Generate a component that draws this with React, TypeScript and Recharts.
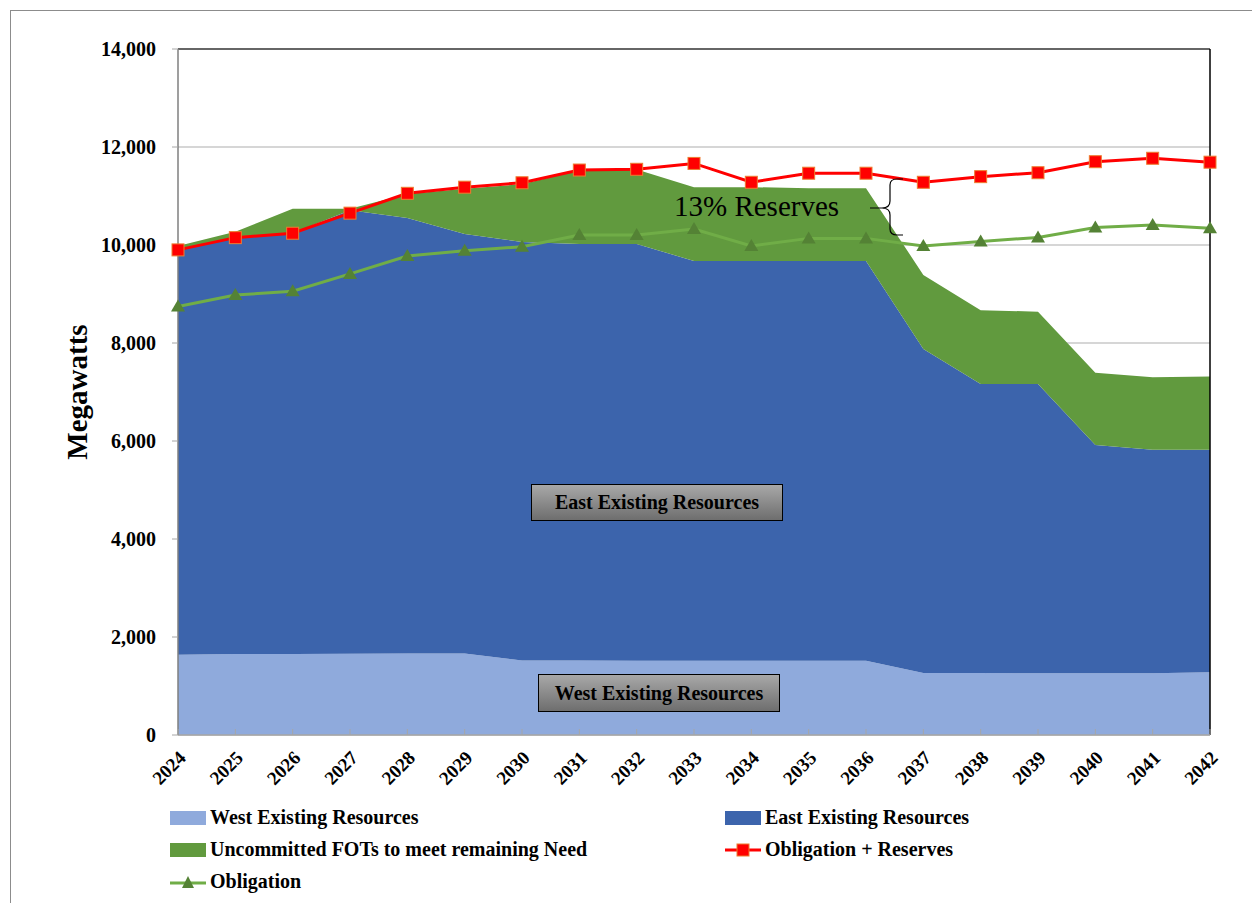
import React from "react";
import {
  ComposedChart,
  Area,
  Line,
  XAxis,
  YAxis,
  CartesianGrid,
  ReferenceLine,
} from "recharts";

const years = [
  "2024", "2025", "2026", "2027", "2028", "2029", "2030", "2031", "2032", "2033",
  "2034", "2035", "2036", "2037", "2038", "2039", "2040", "2041", "2042",
];
const westExisting = [
  1640, 1655, 1655, 1660, 1665, 1665, 1520, 1520, 1515, 1515,
  1515, 1515, 1515, 1265, 1265, 1260, 1260, 1260, 1280,
];
const eastExisting = [
  8260, 8495, 8585, 9050, 8885, 8560, 8540, 8500, 8505, 8160,
  8160, 8160, 8160, 6615, 5900, 5905, 4660, 4560, 4540,
];
const uncommittedFots = [
  80, 120, 500, 30, 490, 925, 1180, 1510, 1520, 1505,
  1505, 1485, 1485, 1510, 1505, 1475, 1475, 1480, 1495,
];
const obligationReserves = [
  9900, 10150, 10240, 10650, 11055, 11180, 11270, 11530, 11545, 11665,
  11280, 11465, 11465, 11280, 11395, 11475, 11700, 11770, 11690,
];
const obligation = [
  8745, 8980, 9055, 9410, 9775, 9885, 9965, 10205, 10205, 10325,
  9980, 10135, 10135, 9980, 10070, 10155, 10355, 10410, 10340,
];
const yTicks = [0, 2000, 4000, 6000, 8000, 10000, 12000, 14000];

const data = years.map((y, i) => ({
  year: y,
  west: westExisting[i],
  east: eastExisting[i],
  fots: uncommittedFots[i],
  oblRes: obligationReserves[i],
  obl: obligation[i],
}));

const SERIF = "'Liberation Serif', 'Times New Roman', serif";
const C_WEST = "#8FAADC";
const C_EAST = "#3C64AC";
const C_FOT = "#619A3E";
const C_RED = "#FF0000";
const C_OBL = "#70AD47";
const C_TRI = "#548235";

const SquareDot = (props: any) => {
  const { cx, cy } = props;
  if (cx == null || cy == null) return null;
  return <rect x={cx - 6} y={cy - 6} width={12} height={12} fill={C_RED} stroke="#ED7D31" strokeWidth={1} />;
};

const TriDot = (props: any) => {
  const { cx, cy } = props;
  if (cx == null || cy == null) return null;
  return <path d={`M${cx},${cy - 7} L${cx + 7},${cy + 5} L${cx - 7},${cy + 5} Z`} fill={C_TRI} />;
};

const YearTick = (props: any) => {
  const { x, y, payload } = props;
  const ax = x + 9;
  const ay = y + 22;
  return (
    <g>
      <line x1={x} x2={x} y1={y - 2} y2={y - 8} stroke="#A6A6A6" />
      <text
        x={ax}
        y={ay}
        transform={`rotate(-45 ${ax} ${ay})`}
        textAnchor="end"
        fontFamily={SERIF}
        fontWeight="bold"
        fontSize={19}
        fill="#000"
      >
        {payload.value}
      </text>
    </g>
  );
};

const labelBox: React.CSSProperties = {
  position: "absolute",
  border: "1px solid #000",
  background: "linear-gradient(#A8A8A8, #6E6E6E)",
  fontFamily: SERIF,
  fontWeight: "bold",
  fontSize: 20,
  color: "#000",
  display: "flex",
  alignItems: "center",
  justifyContent: "center",
  boxSizing: "border-box",
};

const legendText: React.CSSProperties = {
  fontFamily: SERIF,
  fontWeight: "bold",
  fontSize: 20,
  color: "#000",
  whiteSpace: "nowrap",
};

const LegendItem = ({ kind, color, label, left, top }: any) => (
  <div style={{ position: "absolute", left, top, display: "flex", alignItems: "center" }}>
    <svg width={38} height={16} style={{ marginRight: 2 }}>
      {kind === "area" && <rect x={0} y={1} width={36} height={14} fill={color} />}
      {kind === "square" && (
        <g>
          <line x1={0} x2={36} y1={8} y2={8} stroke={C_RED} strokeWidth={3} />
          <rect x={12} y={2} width={12} height={12} fill={C_RED} stroke="#ED7D31" />
        </g>
      )}
      {kind === "tri" && (
        <g>
          <line x1={0} x2={36} y1={9} y2={9} stroke={C_OBL} strokeWidth={3} />
          <path d="M18,2 L24,14 L12,14 Z" fill={C_TRI} />
        </g>
      )}
    </svg>
    <span style={legendText}>{label}</span>
  </div>
);

export default function App() {
  return (
    <div style={{ position: "absolute", left: 0, top: 0, width: 1252, height: 903, background: "#fff", overflow: "hidden" }}>
      <div
        style={{
          position: "absolute",
          left: 10,
          top: 10,
          width: 1260,
          height: 900,
          borderTop: "1px solid #8C8C8C",
          borderLeft: "1px solid #8C8C8C",
        }}
      />
      <div style={{ position: "absolute", left: 0, top: 0 }}>
        <ComposedChart
          width={1252}
          height={903}
          data={data}
          margin={{ top: 49, right: 42, bottom: 108, left: 108 }}
        >
          <CartesianGrid horizontal vertical={false} stroke="#C8C8C8" strokeWidth={1.5} />
          <XAxis
            dataKey="year"
            axisLine={{ stroke: "#A6A6A6", strokeWidth: 1.5 }}
            tickLine={false}
            tickSize={0}
            height={60}
            interval={0}
            tick={<YearTick />}
          />
          <YAxis
            domain={[0, 14000]}
            ticks={yTicks}
            width={70}
            tickSize={6}
            tickMargin={16}
            axisLine={{ stroke: "#7F7F7F", strokeWidth: 1.5 }}
            tickLine={{ stroke: "#A6A6A6" }}
            tickFormatter={(v: number) => v.toLocaleString("en-US")}
            tick={{ fontFamily: SERIF, fontWeight: "bold", fontSize: 20, fill: "#000" }}
            label={{
              value: "Megawatts",
              angle: -90,
              position: "insideLeft",
              offset: -31,
              style: { fontFamily: SERIF, fontWeight: "bold", fontSize: 29, fill: "#000", textAnchor: "middle" },
            }}
          />
          <Area
            type="linear"
            dataKey="west"
            stackId="cap"
            fill={C_WEST}
            fillOpacity={1}
            stroke="none"
            isAnimationActive={false}
          />
          <Area
            type="linear"
            dataKey="east"
            stackId="cap"
            fill={C_EAST}
            fillOpacity={1}
            stroke="none"
            isAnimationActive={false}
          />
          <Area
            type="linear"
            dataKey="fots"
            stackId="cap"
            fill={C_FOT}
            fillOpacity={1}
            stroke="none"
            isAnimationActive={false}
          />
          <ReferenceLine y={14000} stroke="#404040" strokeWidth={1.5} />
          <ReferenceLine x="2042" stroke="#000" strokeWidth={1.5} />
          <Line
            type="linear"
            dataKey="obl"
            stroke={C_OBL}
            strokeWidth={3}
            dot={<TriDot />}
            isAnimationActive={false}
          />
          <Line
            type="linear"
            dataKey="oblRes"
            stroke={C_RED}
            strokeWidth={3}
            dot={<SquareDot />}
            isAnimationActive={false}
          />
        </ComposedChart>
      </div>

      <div style={{ ...labelBox, left: 531, top: 484, width: 252, height: 37 }}>East Existing Resources</div>
      <div style={{ ...labelBox, left: 538, top: 674, width: 242, height: 38 }}>West Existing Resources</div>

      <div
        style={{
          position: "absolute",
          left: 674,
          top: 190,
          fontFamily: SERIF,
          fontSize: 29,
          color: "#000",
          whiteSpace: "nowrap",
        }}
      >
        13% Reserves
      </div>
      <svg style={{ position: "absolute", left: 860, top: 175 }} width={50} height={65}>
        <path
          d="M43,4 L37,4 Q30,4 30,10 L30,26 Q30,33 22,33 L10,33 M22,33 Q30,33 30,40 L30,54 Q30,60 37,60 L43,60"
          fill="none"
          stroke="#000"
          strokeWidth={1.2}
        />
      </svg>

      <LegendItem kind="area" color={C_WEST} label="West Existing Resources" left={170} top={806} />
      <LegendItem kind="area" color={C_EAST} label="East Existing Resources" left={725} top={806} />
      <LegendItem kind="area" color={C_FOT} label="Uncommitted FOTs to meet remaining Need" left={170} top={838} />
      <LegendItem kind="square" label="Obligation + Reserves" left={725} top={838} />
      <LegendItem kind="tri" label="Obligation" left={170} top={870} />
    </div>
  );
}
